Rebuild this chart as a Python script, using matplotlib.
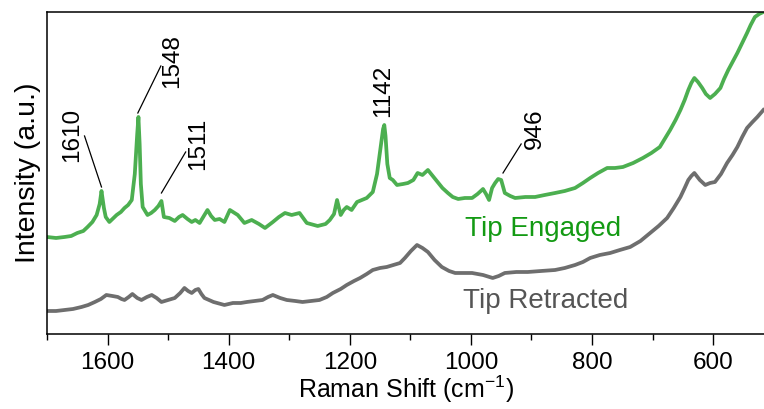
import matplotlib
matplotlib.use('Agg')
import matplotlib.pyplot as plt
from matplotlib.ticker import MultipleLocator

plt.rcParams['font.family'] = ['Liberation Sans', 'DejaVu Sans']
plt.rcParams['mathtext.fontset'] = 'custom'
plt.rcParams['mathtext.rm'] = 'Liberation Sans'

# Raman shift (cm-1) and intensity (a.u.)
engaged_shift = [1700, 1685, 1671, 1660, 1650, 1640, 1633, 1625, 1618, 1613,
                 1610, 1606, 1603, 1597, 1590, 1585, 1578, 1572, 1566, 1560,
                 1555, 1551, 1549, 1547, 1545, 1542, 1534, 1528, 1522, 1516,
                 1511, 1507, 1498, 1489, 1482, 1476, 1468, 1461, 1455, 1448,
                 1441, 1435, 1429, 1423, 1415, 1407, 1398, 1385, 1374, 1362,
                 1350, 1340, 1327, 1317, 1307, 1296, 1283, 1271, 1253, 1240,
                 1233, 1226, 1221, 1215, 1210, 1205, 1197, 1188, 1180, 1172,
                 1162, 1155, 1149, 1145, 1143, 1141, 1138, 1134, 1129, 1122,
                 1112, 1104, 1095, 1088, 1080, 1071, 1063, 1055, 1047, 1038,
                 1030, 1021, 1010, 998, 989, 980, 975, 970, 965, 960,
                 955, 950, 944, 935, 927, 910, 894, 878, 861, 845,
                 828, 815, 803, 790, 775, 762, 749, 732, 716, 702,
                 688, 680, 671, 662, 654, 647, 641, 636, 631, 625,
                 618, 612, 605, 597, 588, 582, 575, 568, 560, 552,
                 544, 538, 531, 524, 517]
engaged_int = [97, 96, 97, 98, 101, 103, 107, 112, 119, 130,
               143, 126, 117, 112, 116, 119, 122, 126, 129, 134,
               160, 200, 217, 190, 150, 127, 119, 121, 124, 128,
               133, 117, 116, 113, 117, 119, 115, 112, 114, 111,
               118, 124, 118, 114, 115, 112, 124, 119, 111, 114,
               110, 106, 112, 117, 121, 119, 121, 111, 108, 110,
               114, 120, 134, 119, 124, 127, 124, 132, 134, 136,
               142, 160, 187, 205, 209, 198, 170, 156, 154, 149,
               150, 151, 154, 161, 159, 164, 158, 152, 146, 141,
               137, 135, 136, 136, 140, 145, 140, 134, 146, 151,
               155, 154, 141, 138, 136, 137, 137, 139, 141, 143,
               146, 151, 156, 161, 166, 166, 167, 171, 176, 181,
               187, 195, 204, 214, 224, 234, 244, 251, 256, 252,
               246, 240, 236, 240, 246, 255, 264, 272, 281, 291,
               301, 309, 317, 320, 322]

retracted_shift = [1700, 1685, 1671, 1657, 1643, 1632, 1621, 1611, 1602, 1592,
                   1583, 1577, 1572, 1565, 1559, 1551, 1544, 1535, 1527, 1519,
                   1511, 1500, 1489, 1480, 1473, 1467, 1461, 1455, 1450, 1445,
                   1440, 1425, 1407, 1393, 1380, 1370, 1357, 1344, 1335, 1327,
                   1315, 1304, 1290, 1278, 1264, 1250, 1238, 1228, 1215, 1205,
                   1193, 1183, 1172, 1162, 1150, 1139, 1128, 1117, 1109, 1099,
                   1089, 1080, 1071, 1060, 1048, 1036, 1026, 1012, 998, 980,
                   964, 954, 944, 925, 906, 884, 861, 845, 828, 815,
                   803, 787, 770, 754, 737, 720, 704, 690, 676, 665,
                   654, 647, 641, 636, 631, 622, 613, 605, 597, 587,
                   577, 568, 560, 552, 544, 535, 527, 517]
retracted_int = [23, 23, 24, 25, 27, 29, 32, 35, 39, 38,
                 37, 35, 34, 37, 40, 36, 34, 37, 39, 36,
                 32, 34, 36, 41, 46, 43, 41, 44, 45, 40,
                 36, 32, 29, 31, 31, 32, 33, 34, 37, 39,
                 36, 34, 33, 32, 33, 34, 37, 41, 45, 49,
                 53, 56, 60, 64, 66, 67, 69, 71, 76, 83,
                 89, 86, 82, 74, 67, 63, 61, 61, 61, 59,
                 56, 58, 61, 62, 62, 63, 64, 66, 69, 72,
                 76, 79, 81, 84, 87, 93, 101, 108, 116, 126,
                 137, 146, 154, 158, 161, 154, 149, 151, 152, 160,
                 171, 179, 187, 197, 206, 212, 217, 224]

# peak labels: text position and leader line (shift, intensity)
peak_labels = ['1610', '1548', '1511', '1142', '946']
label_pos = [(1658, 199), (1493, 273), (1451, 190), (1145, 243), (894, 205)]
leader_lines = [((1638, 198), (1610, 147)),
                ((1512, 268), (1550, 221)),
                ((1471, 182), (1511, 141)),
                None,
                ((917, 190), (947, 161))]

green = '#4caf50'
gray = '#6e6e6e'

fig = plt.figure(figsize=(7.64, 4.09), dpi=100)
ax = fig.add_axes([0.0615, 0.1834, 0.9385, 0.7873])

ax.plot(engaged_shift, engaged_int, color=green, lw=2.7)
ax.plot(retracted_shift, retracted_int, color=gray, lw=2.7)

for lab, pos, seg in zip(peak_labels, label_pos, leader_lines):
    ax.text(pos[0], pos[1], lab, rotation=90, ha='center', va='center',
            fontsize=17.5, color='black')
    if seg is not None:
        ax.plot([seg[0][0], seg[1][0]], [seg[0][1], seg[1][1]],
                color='black', lw=0.9)

ax.text(1010, 105, 'Tip Engaged', color='#139a13', fontsize=20,
        ha='left', va='center')
ax.text(1013, 33, 'Tip Retracted', color='#555555', fontsize=20,
        ha='left', va='center')

ax.set_xlim(1700, 516)
ax.set_ylim(0, 322)
ax.set_yticks([])
ax.xaxis.set_major_locator(MultipleLocator(200))
ax.xaxis.set_minor_locator(MultipleLocator(100))
ax.tick_params(axis='x', which='major', direction='out', length=8, width=1,
               labelsize=17.5, pad=5)
ax.tick_params(axis='x', which='minor', direction='out', length=4, width=1)
ax.spines['right'].set_visible(False)
for s in ['left', 'top', 'bottom']:
    ax.spines[s].set_linewidth(1.1)

ax.set_xlabel('Raman Shift (cm$^{-1}$)', fontsize=18, labelpad=0)
ax.set_ylabel('Intensity (a.u.)', fontsize=20.5, labelpad=4)

fig.savefig('out.png', dpi=100)
